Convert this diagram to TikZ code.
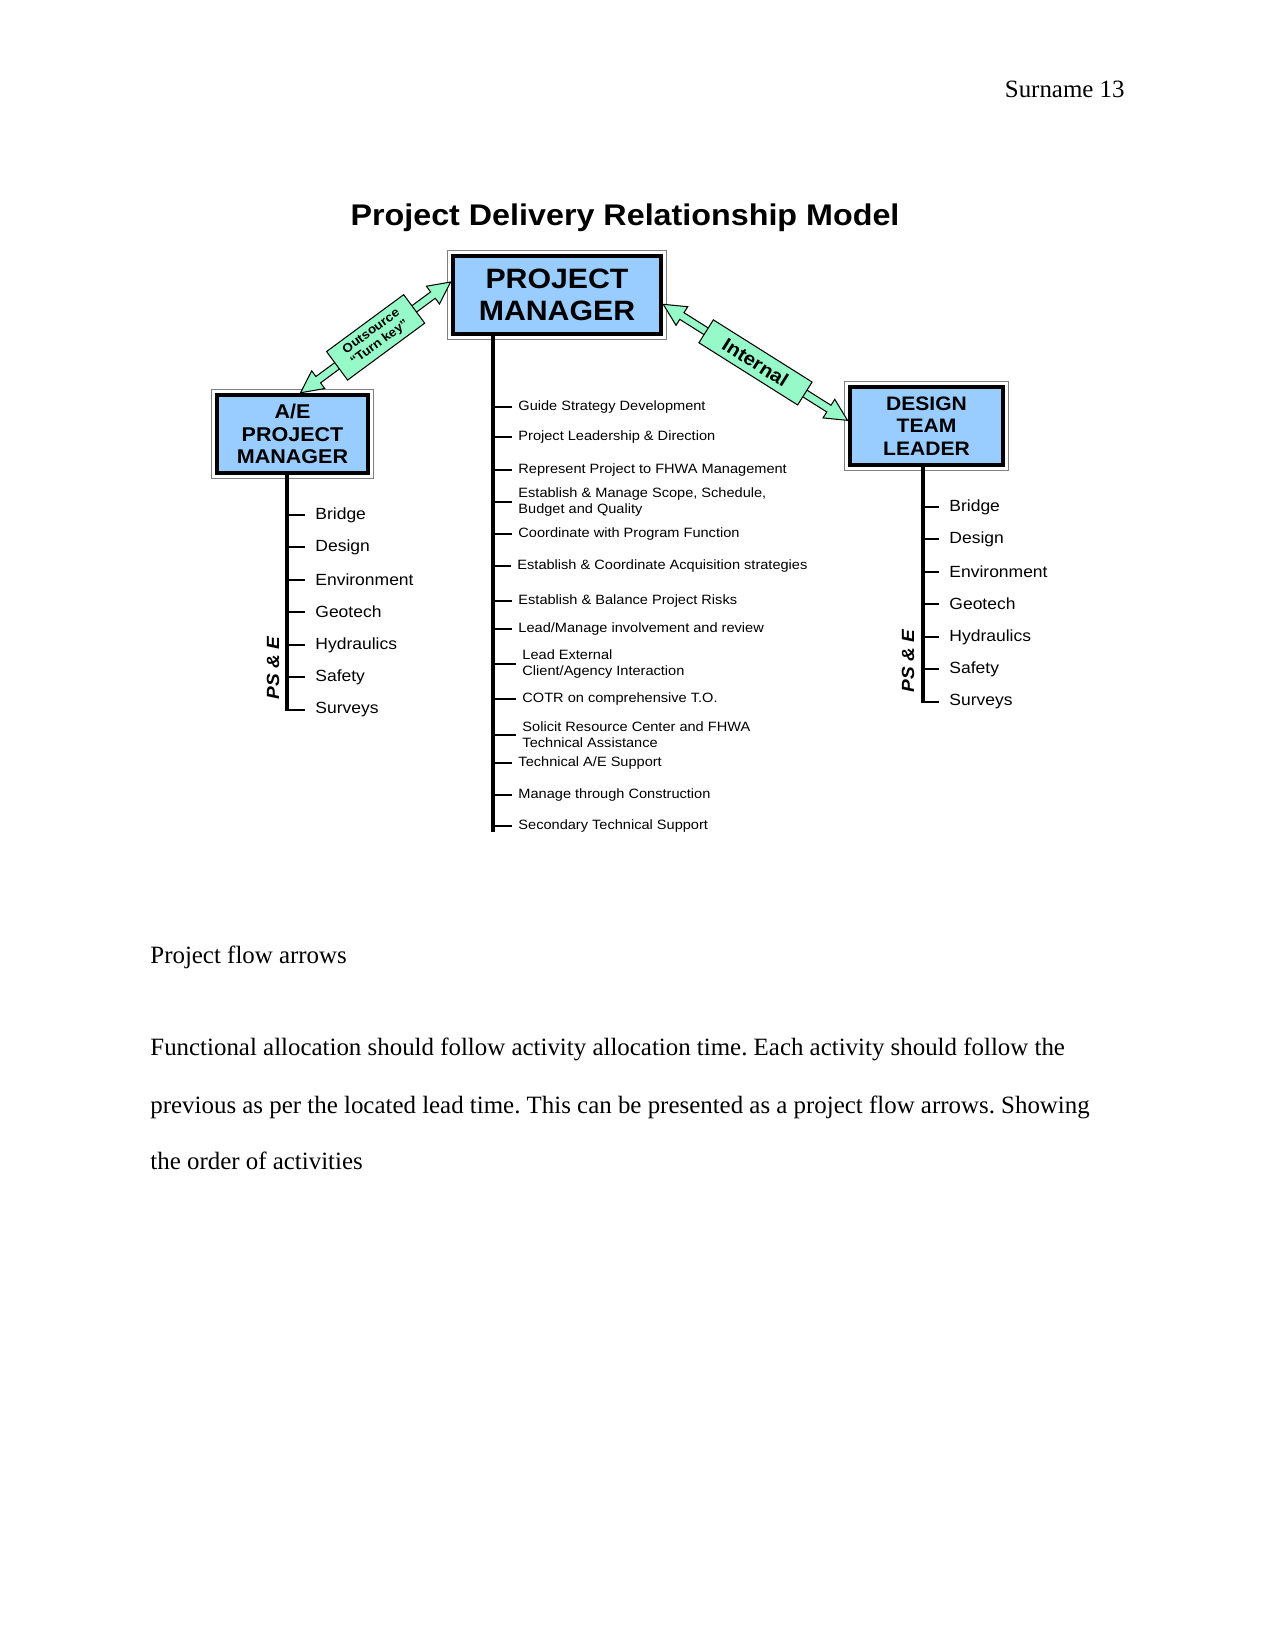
\documentclass[tikz,border=0pt]{standalone}
\usepackage{fontspec}
\setmainfont{Liberation Serif}
\newfontfamily\diagfont[FakeStretch=1.08]{Liberation Sans}
\usetikzlibrary{calc}
\definecolor{boxblue}{RGB}{153,204,255}
\definecolor{linkgreen}{RGB}{150,250,200}
\frenchspacing

\begin{document}
\begin{tikzpicture}[x=0.48bp,y=-0.48bp]
  \tikzstyle{mgrbox}=[draw,line width=2.2bp,fill=boxblue,align=center,
                      inner sep=0pt]
  \tikzstyle{frame}=[draw=gray,line width=0.6bp]
  \tikzstyle{trunk}=[line width=2.2bp]
  \tikzstyle{tick}=[line width=0.5bp]
  \tikzstyle{branch}=[anchor=west,inner xsep=4.8bp,inner ysep=0pt,
                      font=\diagfont\fontsize{7.8}{9}\selectfont]
  \tikzstyle{task}=[anchor=west,inner xsep=2.9bp,inner ysep=0pt,align=left,
                    font=\diagfont\fontsize{6.5}{7.7}\selectfont]
  \tikzstyle{link}=[draw,fill=linkgreen,line width=0.5bp]
  \tikzstyle{psne}=[rotate=90,inner sep=0pt,
                    font=\diagfont\bfseries\itshape\fontsize{8.5}{10}\selectfont]
  \tikzstyle{pagetext}=[anchor=base west,inner sep=0pt,
                        font=\fontsize{12}{14}\selectfont]

  \useasboundingbox (0,0) rectangle (1275,1650);

  % page text
  \node[pagetext,anchor=base east] (pagehead) at (1125,97) {Surname 13};
  \node[anchor=base,inner sep=0pt,
        font=\diagfont\bfseries\fontsize{14.4}{17}\selectfont] (title)
        at (625,225) {Project Delivery Relationship Model};

  % the three managers
  \node[mgrbox,minimum width=99.8bp,minimum height=37.4bp,
        font=\diagfont\bfseries\fontsize{13.5}{15.4}\selectfont] (pm)
        at (557,295) {PROJECT\\MANAGER};
  \node[mgrbox,minimum width=72.5bp,minimum height=37.4bp,
        font=\diagfont\bfseries\fontsize{9.6}{10.8}\selectfont] (ae)
        at (292.5,434) {A/E\\PROJECT\\MANAGER};
  \node[mgrbox,minimum width=73.4bp,minimum height=37.4bp,
        font=\diagfont\bfseries\fontsize{9.4}{10.8}\selectfont] (dtl)
        at (926.5,426) {DESIGN\\TEAM\\LEADER};
  \draw[frame] ([shift={(-3.5,-3.5)}]pm.north west) rectangle ([shift={(3.5,3.5)}]pm.south east);
  \draw[frame] ([shift={(-3.5,-3.5)}]ae.north west) rectangle ([shift={(3.5,3.5)}]ae.south east);
  \draw[frame] ([shift={(-3.5,-3.5)}]dtl.north west) rectangle ([shift={(3.5,3.5)}]dtl.south east);

  % links between managers
  \draw[link] let \p1=(ae.79), \p2=(pm.173),
      \n1={atan2(\y2-\y1,\x2-\x1)}, \n2={veclen(\x2-\x1,\y2-\y1)},
      \n3={\n2-10.6} in [shift={(\p1)},rotate=\n1]
      (0pt,0pt) -- (10.6pt,5.3pt) -- (10.6pt,1.9pt) -- (\n3,1.9pt)
      -- (\n3,5.3pt) -- (\n2,0pt) -- (\n3,-5.3pt) -- (\n3,-1.9pt)
      -- (10.6pt,-1.9pt) -- (10.6pt,-5.3pt) -- cycle;
  \path (ae.79) -- node[link,sloped,minimum width=46bp,minimum height=17bp,
        inner sep=0pt,align=center,
        font=\diagfont\bfseries\fontsize{6}{6.8}\selectfont] (outsrc)
        {Outsource\\“Turn key”} (pm.173);
  \draw[link] let \p1=(pm.-5), \p2=(dtl.176),
      \n1={atan2(\y2-\y1,\x2-\x1)}, \n2={veclen(\x2-\x1,\y2-\y1)},
      \n3={\n2-10.6} in [shift={(\p1)},rotate=\n1]
      (0pt,0pt) -- (10.6pt,5.3pt) -- (10.6pt,1.9pt) -- (\n3,1.9pt)
      -- (\n3,5.3pt) -- (\n2,0pt) -- (\n3,-5.3pt) -- (\n3,-1.9pt)
      -- (10.6pt,-1.9pt) -- (10.6pt,-5.3pt) -- cycle;
  \path (pm.-5) -- node[link,sloped,minimum width=56bp,minimum height=13bp,
        inner sep=0pt,font=\diagfont\bfseries\fontsize{9.1}{10}\selectfont]
        (intern) {Internal} (dtl.176);

  % A/E project manager branch
  \coordinate (aeend) at (287,711);
  \draw[trunk] (ae.south -| aeend) -- (aeend);
  \node[branch] (ae1) at (305,515) {Bridge};
  \node[branch] (ae2) at (305,547) {Design};
  \node[branch] (ae3) at (305,580) {Environment};
  \node[branch] (ae4) at (305,612) {Geotech};
  \node[branch] (ae5) at (305,645) {Hydraulics};
  \node[branch] (ae6) at (305,677) {Safety};
  \node[branch] (ae7) at (305,710) {Surveys};
  \node[psne] (aepse) at (273,668) {PS \& E};

  % design team leader branch
  \coordinate (dtlend) at (923,703);
  \draw[trunk] (dtl.south -| dtlend) -- (dtlend);
  \node[branch] (dt1) at (939,507) {Bridge};
  \node[branch] (dt2) at (939,539) {Design};
  \node[branch] (dt3) at (939,572) {Environment};
  \node[branch] (dt4) at (939,604) {Geotech};
  \node[branch] (dt5) at (939,637) {Hydraulics};
  \node[branch] (dt6) at (939,669) {Safety};
  \node[branch] (dt7) at (939,702) {Surveys};
  \node[psne] (dtlpse) at (908,661) {PS \& E};

  % project manager duties
  \coordinate (pmend) at (493,832);
  \draw[trunk] (pm.south -| pmend) -- (pmend);
  \node[task] (pm1) at (512,407) {Guide Strategy Development};
  \node[task] (pm2) at (512,437) {Project Leadership \& Direction};
  \node[task] (pm3) at (512,470) {Represent Project to FHWA Management};
  \node[task] (pm4) at (512,502) {Establish \& Manage Scope, Schedule,\\Budget and Quality};
  \node[task] (pm5) at (512,534) {Coordinate with Program Function};
  \node[task] (pm6) at (511,566) {Establish \& Coordinate Acquisition strategies};
  \node[task] (pm7) at (512,601) {Establish \& Balance Project Risks};
  \node[task] (pm8) at (512,629) {Lead/Manage involvement and review};
  \node[task] (pm9) at (516,664) {Lead External\\Client/Agency Interaction};
  \node[task] (pm10) at (516,699) {COTR on comprehensive T.O.};
  \node[task] (pm11) at (516,735) {Solicit Resource Center and FHWA\\Technical Assistance};
  \node[task] (pm12) at (512,763) {Technical A/E Support};
  \node[task] (pm13) at (512,795) {Manage through Construction};
  \node[task] (pm14) at (512,826) {Secondary Technical Support};

  \foreach \n in {ae1,ae2,ae3,ae4,ae5,ae6,ae7}
    \draw[tick] (\n.west) -- (\n.west -| aeend);
  \foreach \n in {dt1,dt2,dt3,dt4,dt5,dt6,dt7}
    \draw[tick] (\n.west) -- (\n.west -| dtlend);
  \foreach \n in {pm1,pm2,pm3,pm4,pm5,pm6,pm7,pm8,pm9,pm10,pm11,pm12,pm13,pm14}
    \draw[tick] (\n.west) -- (\n.west -| pmend);

  % text under the figure
  \node[pagetext] (flowhead) at (150,963) {Project flow arrows};
  \node[pagetext] (para1) at (150,1055) {Functional allocation should follow activity allocation time. Each activity should follow the};
  \node[pagetext] (para2) at (150,1113) {previous as per the located lead time. This can be presented as a project flow arrows. Showing};
  \node[pagetext] (para3) at (150,1169) {the order of activities};
\end{tikzpicture}
\end{document}
